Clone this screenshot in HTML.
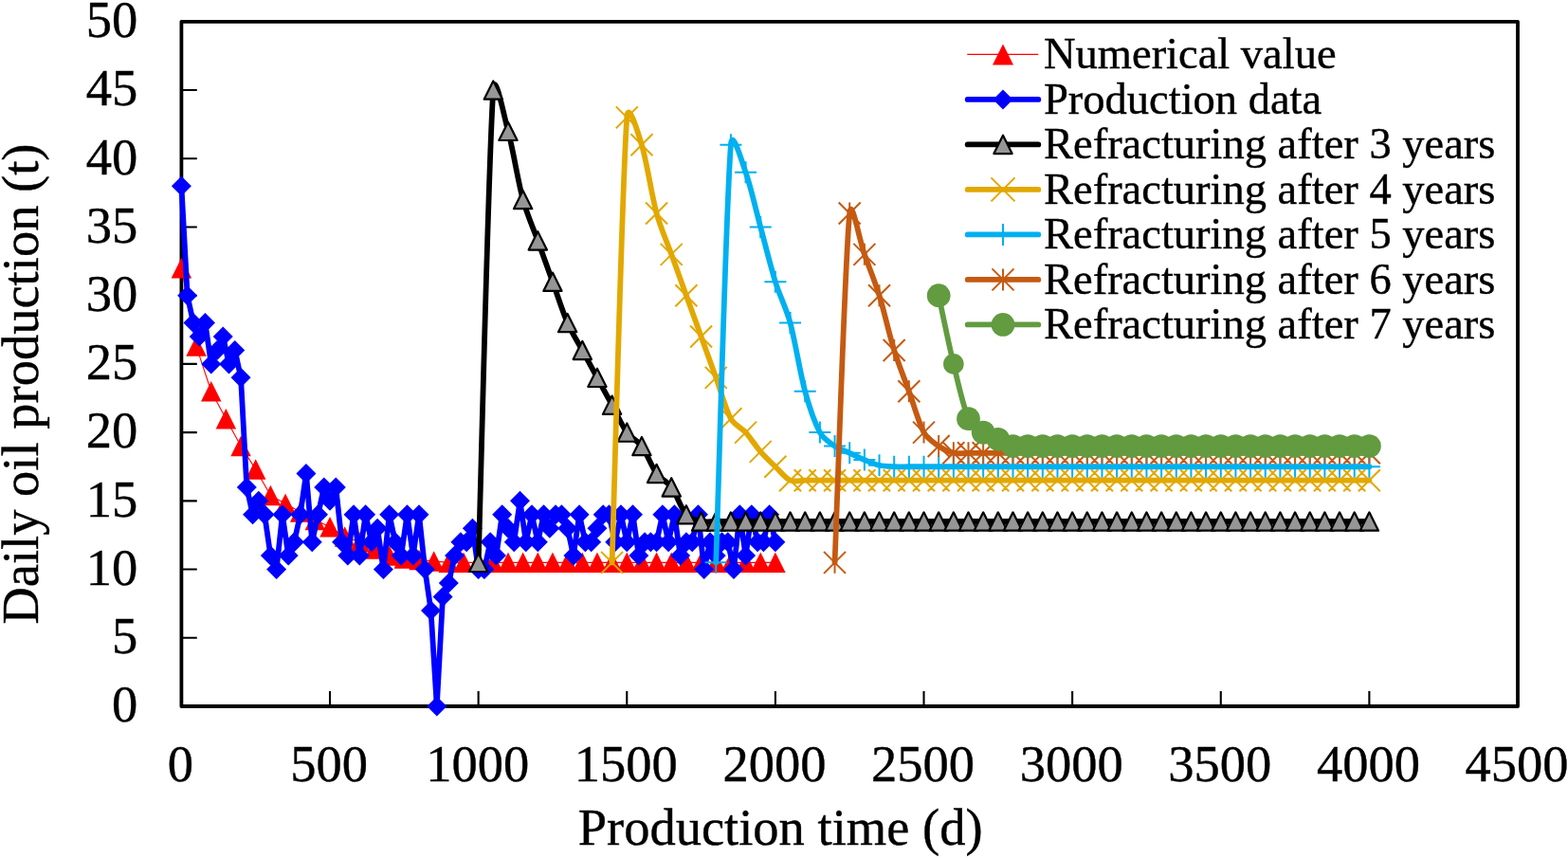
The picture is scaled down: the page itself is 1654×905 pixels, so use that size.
<!DOCTYPE html>
<html><head><meta charset="utf-8"><title>Daily oil production</title>
<style>html,body{margin:0;padding:0;background:#fff;overflow:hidden}svg{display:block}</style>
</head><body>
<svg width="1654" height="905" viewBox="0 0 1654 905"><rect x="0" y="0" width="1654" height="905" fill="#fff"/>
<rect x="191.4" y="22.8" width="1409.6" height="722.2" fill="none" stroke="#000" stroke-width="3.8" stroke-linejoin="round"/>
<path d="M191.4 672.78L207.8 672.78M191.4 600.56L207.8 600.56M191.4 528.34L207.8 528.34M191.4 456.12L207.8 456.12M191.4 383.9L207.8 383.9M191.4 311.68L207.8 311.68M191.4 239.46L207.8 239.46M191.4 167.24L207.8 167.24M191.4 95.02L207.8 95.02M348.02 745L348.02 729M504.64 745L504.64 729M661.27 745L661.27 729M817.89 745L817.89 729M974.51 745L974.51 729M1131.13 745L1131.13 729M1287.76 745L1287.76 729M1444.38 745L1444.38 729" stroke="#000" stroke-width="2.1"/>
<path d="M191.4 282.79 L207.06 365.12 L222.72 412.79 L238.39 441.68 L254.05 470.56 L269.71 495.12 L285.37 522.56 L301.04 531.23 L316.7 539.9 L332.36 548.56 L348.02 555.78 L363.68 565.89 L379.35 571.67 L395.01 578.89 L410.67 586.12 L426.33 589 L442 590.45 L457.66 591.89 L473.32 593.34 L488.98 593.34 L504.64 593.34 L520.31 593.34 L535.97 593.34 L551.63 593.34 L567.29 593.34 L582.96 593.34 L598.62 593.34 L614.28 593.34 L629.94 593.34 L645.6 593.34 L661.27 593.34 L676.93 593.34 L692.59 593.34 L708.25 593.34 L723.92 593.34 L739.58 593.34 L755.24 593.34 L770.9 593.34 L786.56 593.34 L802.23 593.34 L817.89 593.34" stroke="#FF0000" stroke-width="1.1" fill="none" stroke-linejoin="round"/>
<polygon points="191.4,272.04 202.15,293.54 180.65,293.54" fill="#FF0000"/><polygon points="207.06,354.37 217.81,375.87 196.31,375.87" fill="#FF0000"/><polygon points="222.72,402.04 233.47,423.54 211.97,423.54" fill="#FF0000"/><polygon points="238.39,430.93 249.14,452.43 227.64,452.43" fill="#FF0000"/><polygon points="254.05,459.81 264.8,481.31 243.3,481.31" fill="#FF0000"/><polygon points="269.71,484.37 280.46,505.87 258.96,505.87" fill="#FF0000"/><polygon points="285.37,511.81 296.12,533.31 274.62,533.31" fill="#FF0000"/><polygon points="301.04,520.48 311.79,541.98 290.29,541.98" fill="#FF0000"/><polygon points="316.7,529.15 327.45,550.65 305.95,550.65" fill="#FF0000"/><polygon points="332.36,537.81 343.11,559.31 321.61,559.31" fill="#FF0000"/><polygon points="348.02,545.03 358.77,566.53 337.27,566.53" fill="#FF0000"/><polygon points="363.68,555.14 374.43,576.64 352.93,576.64" fill="#FF0000"/><polygon points="379.35,560.92 390.1,582.42 368.6,582.42" fill="#FF0000"/><polygon points="395.01,568.14 405.76,589.64 384.26,589.64" fill="#FF0000"/><polygon points="410.67,575.37 421.42,596.87 399.92,596.87" fill="#FF0000"/><polygon points="426.33,578.25 437.08,599.75 415.58,599.75" fill="#FF0000"/><polygon points="442,579.7 452.75,601.2 431.25,601.2" fill="#FF0000"/><polygon points="457.66,581.14 468.41,602.64 446.91,602.64" fill="#FF0000"/><polygon points="473.32,582.59 484.07,604.09 462.57,604.09" fill="#FF0000"/><polygon points="488.98,582.59 499.73,604.09 478.23,604.09" fill="#FF0000"/><polygon points="504.64,582.59 515.39,604.09 493.89,604.09" fill="#FF0000"/><polygon points="520.31,582.59 531.06,604.09 509.56,604.09" fill="#FF0000"/><polygon points="535.97,582.59 546.72,604.09 525.22,604.09" fill="#FF0000"/><polygon points="551.63,582.59 562.38,604.09 540.88,604.09" fill="#FF0000"/><polygon points="567.29,582.59 578.04,604.09 556.54,604.09" fill="#FF0000"/><polygon points="582.96,582.59 593.71,604.09 572.21,604.09" fill="#FF0000"/><polygon points="598.62,582.59 609.37,604.09 587.87,604.09" fill="#FF0000"/><polygon points="614.28,582.59 625.03,604.09 603.53,604.09" fill="#FF0000"/><polygon points="629.94,582.59 640.69,604.09 619.19,604.09" fill="#FF0000"/><polygon points="645.6,582.59 656.35,604.09 634.85,604.09" fill="#FF0000"/><polygon points="661.27,582.59 672.02,604.09 650.52,604.09" fill="#FF0000"/><polygon points="676.93,582.59 687.68,604.09 666.18,604.09" fill="#FF0000"/><polygon points="692.59,582.59 703.34,604.09 681.84,604.09" fill="#FF0000"/><polygon points="708.25,582.59 719,604.09 697.5,604.09" fill="#FF0000"/><polygon points="723.92,582.59 734.67,604.09 713.17,604.09" fill="#FF0000"/><polygon points="739.58,582.59 750.33,604.09 728.83,604.09" fill="#FF0000"/><polygon points="755.24,582.59 765.99,604.09 744.49,604.09" fill="#FF0000"/><polygon points="770.9,582.59 781.65,604.09 760.15,604.09" fill="#FF0000"/><polygon points="786.56,582.59 797.31,604.09 775.81,604.09" fill="#FF0000"/><polygon points="802.23,582.59 812.98,604.09 791.48,604.09" fill="#FF0000"/><polygon points="817.89,582.59 828.64,604.09 807.14,604.09" fill="#FF0000"/>
<path d="M191.4 196.13 L197.66 311.68 L203.93 340.57 L210.19 355.01 L216.46 340.57 L222.72 383.9 L228.99 369.46 L235.25 355.01 L241.52 383.9 L247.78 369.46 L254.05 398.34 L260.31 513.9 L266.58 542.78 L272.84 528.34 L279.11 542.78 L285.37 586.12 L291.64 600.56 L297.9 542.78 L304.17 586.12 L310.43 571.67 L316.7 542.78 L322.96 499.45 L329.23 571.67 L335.49 542.78 L341.76 513.9 L348.02 528.34 L354.29 513.9 L360.55 571.67 L366.82 586.12 L373.08 542.78 L379.35 586.12 L385.61 542.78 L391.88 571.67 L398.14 557.23 L404.41 600.56 L410.67 542.78 L416.94 571.67 L423.2 586.12 L429.47 542.78 L435.73 586.12 L442 542.78 L448.26 600.56 L454.53 643.89 L460.79 745 L467.06 629.45 L473.32 615 L479.58 586.12 L485.85 571.67 L492.11 571.67 L498.38 557.23 L504.64 600.56 L510.91 600.56 L517.17 571.67 L523.44 586.12 L529.7 542.78 L535.97 557.23 L542.23 571.67 L548.5 528.34 L554.76 571.67 L561.03 542.78 L567.29 571.67 L573.56 542.78 L579.82 557.23 L586.09 542.78 L592.35 542.78 L598.62 557.23 L604.88 586.12 L611.15 542.78 L617.41 571.67 L623.68 571.67 L629.94 557.23 L636.21 542.78 L642.47 542.78 L648.74 571.67 L655 542.78 L661.27 571.67 L667.53 542.78 L673.8 586.12 L680.06 571.67 L686.33 571.67 L692.59 571.67 L698.86 542.78 L705.12 571.67 L711.39 542.78 L717.65 586.12 L723.92 571.67 L730.18 571.67 L736.45 542.78 L742.71 600.56 L748.98 571.67 L755.24 586.12 L761.5 571.67 L767.77 571.67 L774.03 600.56 L780.3 542.78 L786.56 586.12 L792.83 542.78 L799.09 571.67 L805.36 571.67 L811.62 542.78 L817.89 571.67" stroke="#0000FF" stroke-width="5.8" fill="none" stroke-linejoin="round" stroke-linecap="round"/>
<polygon points="191.4,185.63 201.9,196.13 191.4,206.63 180.9,196.13" fill="#0000FF"/><polygon points="197.66,301.18 208.16,311.68 197.66,322.18 187.16,311.68" fill="#0000FF"/><polygon points="203.93,330.07 214.43,340.57 203.93,351.07 193.43,340.57" fill="#0000FF"/><polygon points="210.19,344.51 220.69,355.01 210.19,365.51 199.69,355.01" fill="#0000FF"/><polygon points="216.46,330.07 226.96,340.57 216.46,351.07 205.96,340.57" fill="#0000FF"/><polygon points="222.72,373.4 233.22,383.9 222.72,394.4 212.22,383.9" fill="#0000FF"/><polygon points="228.99,358.96 239.49,369.46 228.99,379.96 218.49,369.46" fill="#0000FF"/><polygon points="235.25,344.51 245.75,355.01 235.25,365.51 224.75,355.01" fill="#0000FF"/><polygon points="241.52,373.4 252.02,383.9 241.52,394.4 231.02,383.9" fill="#0000FF"/><polygon points="247.78,358.96 258.28,369.46 247.78,379.96 237.28,369.46" fill="#0000FF"/><polygon points="254.05,387.84 264.55,398.34 254.05,408.84 243.55,398.34" fill="#0000FF"/><polygon points="260.31,503.4 270.81,513.9 260.31,524.4 249.81,513.9" fill="#0000FF"/><polygon points="266.58,532.28 277.08,542.78 266.58,553.28 256.08,542.78" fill="#0000FF"/><polygon points="272.84,517.84 283.34,528.34 272.84,538.84 262.34,528.34" fill="#0000FF"/><polygon points="279.11,532.28 289.61,542.78 279.11,553.28 268.61,542.78" fill="#0000FF"/><polygon points="285.37,575.62 295.87,586.12 285.37,596.62 274.87,586.12" fill="#0000FF"/><polygon points="291.64,590.06 302.14,600.56 291.64,611.06 281.14,600.56" fill="#0000FF"/><polygon points="297.9,532.28 308.4,542.78 297.9,553.28 287.4,542.78" fill="#0000FF"/><polygon points="304.17,575.62 314.67,586.12 304.17,596.62 293.67,586.12" fill="#0000FF"/><polygon points="310.43,561.17 320.93,571.67 310.43,582.17 299.93,571.67" fill="#0000FF"/><polygon points="316.7,532.28 327.2,542.78 316.7,553.28 306.2,542.78" fill="#0000FF"/><polygon points="322.96,488.95 333.46,499.45 322.96,509.95 312.46,499.45" fill="#0000FF"/><polygon points="329.23,561.17 339.73,571.67 329.23,582.17 318.73,571.67" fill="#0000FF"/><polygon points="335.49,532.28 345.99,542.78 335.49,553.28 324.99,542.78" fill="#0000FF"/><polygon points="341.76,503.4 352.26,513.9 341.76,524.4 331.26,513.9" fill="#0000FF"/><polygon points="348.02,517.84 358.52,528.34 348.02,538.84 337.52,528.34" fill="#0000FF"/><polygon points="354.29,503.4 364.79,513.9 354.29,524.4 343.79,513.9" fill="#0000FF"/><polygon points="360.55,561.17 371.05,571.67 360.55,582.17 350.05,571.67" fill="#0000FF"/><polygon points="366.82,575.62 377.32,586.12 366.82,596.62 356.32,586.12" fill="#0000FF"/><polygon points="373.08,532.28 383.58,542.78 373.08,553.28 362.58,542.78" fill="#0000FF"/><polygon points="379.35,575.62 389.85,586.12 379.35,596.62 368.85,586.12" fill="#0000FF"/><polygon points="385.61,532.28 396.11,542.78 385.61,553.28 375.11,542.78" fill="#0000FF"/><polygon points="391.88,561.17 402.38,571.67 391.88,582.17 381.38,571.67" fill="#0000FF"/><polygon points="398.14,546.73 408.64,557.23 398.14,567.73 387.64,557.23" fill="#0000FF"/><polygon points="404.41,590.06 414.91,600.56 404.41,611.06 393.91,600.56" fill="#0000FF"/><polygon points="410.67,532.28 421.17,542.78 410.67,553.28 400.17,542.78" fill="#0000FF"/><polygon points="416.94,561.17 427.44,571.67 416.94,582.17 406.44,571.67" fill="#0000FF"/><polygon points="423.2,575.62 433.7,586.12 423.2,596.62 412.7,586.12" fill="#0000FF"/><polygon points="429.47,532.28 439.97,542.78 429.47,553.28 418.97,542.78" fill="#0000FF"/><polygon points="435.73,575.62 446.23,586.12 435.73,596.62 425.23,586.12" fill="#0000FF"/><polygon points="442,532.28 452.5,542.78 442,553.28 431.5,542.78" fill="#0000FF"/><polygon points="448.26,590.06 458.76,600.56 448.26,611.06 437.76,600.56" fill="#0000FF"/><polygon points="454.53,633.39 465.03,643.89 454.53,654.39 444.03,643.89" fill="#0000FF"/><polygon points="460.79,734.5 471.29,745 460.79,755.5 450.29,745" fill="#0000FF"/><polygon points="467.06,618.95 477.56,629.45 467.06,639.95 456.56,629.45" fill="#0000FF"/><polygon points="473.32,604.5 483.82,615 473.32,625.5 462.82,615" fill="#0000FF"/><polygon points="479.58,575.62 490.08,586.12 479.58,596.62 469.08,586.12" fill="#0000FF"/><polygon points="485.85,561.17 496.35,571.67 485.85,582.17 475.35,571.67" fill="#0000FF"/><polygon points="492.11,561.17 502.61,571.67 492.11,582.17 481.61,571.67" fill="#0000FF"/><polygon points="498.38,546.73 508.88,557.23 498.38,567.73 487.88,557.23" fill="#0000FF"/><polygon points="504.64,590.06 515.14,600.56 504.64,611.06 494.14,600.56" fill="#0000FF"/><polygon points="510.91,590.06 521.41,600.56 510.91,611.06 500.41,600.56" fill="#0000FF"/><polygon points="517.17,561.17 527.67,571.67 517.17,582.17 506.67,571.67" fill="#0000FF"/><polygon points="523.44,575.62 533.94,586.12 523.44,596.62 512.94,586.12" fill="#0000FF"/><polygon points="529.7,532.28 540.2,542.78 529.7,553.28 519.2,542.78" fill="#0000FF"/><polygon points="535.97,546.73 546.47,557.23 535.97,567.73 525.47,557.23" fill="#0000FF"/><polygon points="542.23,561.17 552.73,571.67 542.23,582.17 531.73,571.67" fill="#0000FF"/><polygon points="548.5,517.84 559,528.34 548.5,538.84 538,528.34" fill="#0000FF"/><polygon points="554.76,561.17 565.26,571.67 554.76,582.17 544.26,571.67" fill="#0000FF"/><polygon points="561.03,532.28 571.53,542.78 561.03,553.28 550.53,542.78" fill="#0000FF"/><polygon points="567.29,561.17 577.79,571.67 567.29,582.17 556.79,571.67" fill="#0000FF"/><polygon points="573.56,532.28 584.06,542.78 573.56,553.28 563.06,542.78" fill="#0000FF"/><polygon points="579.82,546.73 590.32,557.23 579.82,567.73 569.32,557.23" fill="#0000FF"/><polygon points="586.09,532.28 596.59,542.78 586.09,553.28 575.59,542.78" fill="#0000FF"/><polygon points="592.35,532.28 602.85,542.78 592.35,553.28 581.85,542.78" fill="#0000FF"/><polygon points="598.62,546.73 609.12,557.23 598.62,567.73 588.12,557.23" fill="#0000FF"/><polygon points="604.88,575.62 615.38,586.12 604.88,596.62 594.38,586.12" fill="#0000FF"/><polygon points="611.15,532.28 621.65,542.78 611.15,553.28 600.65,542.78" fill="#0000FF"/><polygon points="617.41,561.17 627.91,571.67 617.41,582.17 606.91,571.67" fill="#0000FF"/><polygon points="623.68,561.17 634.18,571.67 623.68,582.17 613.18,571.67" fill="#0000FF"/><polygon points="629.94,546.73 640.44,557.23 629.94,567.73 619.44,557.23" fill="#0000FF"/><polygon points="636.21,532.28 646.71,542.78 636.21,553.28 625.71,542.78" fill="#0000FF"/><polygon points="642.47,532.28 652.97,542.78 642.47,553.28 631.97,542.78" fill="#0000FF"/><polygon points="648.74,561.17 659.24,571.67 648.74,582.17 638.24,571.67" fill="#0000FF"/><polygon points="655,532.28 665.5,542.78 655,553.28 644.5,542.78" fill="#0000FF"/><polygon points="661.27,561.17 671.77,571.67 661.27,582.17 650.77,571.67" fill="#0000FF"/><polygon points="667.53,532.28 678.03,542.78 667.53,553.28 657.03,542.78" fill="#0000FF"/><polygon points="673.8,575.62 684.3,586.12 673.8,596.62 663.3,586.12" fill="#0000FF"/><polygon points="680.06,561.17 690.56,571.67 680.06,582.17 669.56,571.67" fill="#0000FF"/><polygon points="686.33,561.17 696.83,571.67 686.33,582.17 675.83,571.67" fill="#0000FF"/><polygon points="692.59,561.17 703.09,571.67 692.59,582.17 682.09,571.67" fill="#0000FF"/><polygon points="698.86,532.28 709.36,542.78 698.86,553.28 688.36,542.78" fill="#0000FF"/><polygon points="705.12,561.17 715.62,571.67 705.12,582.17 694.62,571.67" fill="#0000FF"/><polygon points="711.39,532.28 721.89,542.78 711.39,553.28 700.89,542.78" fill="#0000FF"/><polygon points="717.65,575.62 728.15,586.12 717.65,596.62 707.15,586.12" fill="#0000FF"/><polygon points="723.92,561.17 734.42,571.67 723.92,582.17 713.42,571.67" fill="#0000FF"/><polygon points="730.18,561.17 740.68,571.67 730.18,582.17 719.68,571.67" fill="#0000FF"/><polygon points="736.45,532.28 746.95,542.78 736.45,553.28 725.95,542.78" fill="#0000FF"/><polygon points="742.71,590.06 753.21,600.56 742.71,611.06 732.21,600.56" fill="#0000FF"/><polygon points="748.98,561.17 759.48,571.67 748.98,582.17 738.48,571.67" fill="#0000FF"/><polygon points="755.24,575.62 765.74,586.12 755.24,596.62 744.74,586.12" fill="#0000FF"/><polygon points="761.5,561.17 772,571.67 761.5,582.17 751,571.67" fill="#0000FF"/><polygon points="767.77,561.17 778.27,571.67 767.77,582.17 757.27,571.67" fill="#0000FF"/><polygon points="774.03,590.06 784.53,600.56 774.03,611.06 763.53,600.56" fill="#0000FF"/><polygon points="780.3,532.28 790.8,542.78 780.3,553.28 769.8,542.78" fill="#0000FF"/><polygon points="786.56,575.62 797.06,586.12 786.56,596.62 776.06,586.12" fill="#0000FF"/><polygon points="792.83,532.28 803.33,542.78 792.83,553.28 782.33,542.78" fill="#0000FF"/><polygon points="799.09,561.17 809.59,571.67 799.09,582.17 788.59,571.67" fill="#0000FF"/><polygon points="805.36,561.17 815.86,571.67 805.36,582.17 794.86,571.67" fill="#0000FF"/><polygon points="811.62,532.28 822.12,542.78 811.62,553.28 801.12,542.78" fill="#0000FF"/><polygon points="817.89,561.17 828.39,571.67 817.89,582.17 807.39,571.67" fill="#0000FF"/>
<path d="M504.64 593.34 C507.25 510.28 515.09 170.85 520.31 95.02 C521.89 71.97 531.85 123.15 535.97 138.35 C541.19 157.61 546.41 191.31 551.63 210.57 C555.75 225.78 562.07 239.46 567.29 253.9 C572.51 268.35 577.73 282.79 582.96 297.24 C588.18 311.68 593.4 328.53 598.62 340.57 C603.03 350.73 609.06 359.83 614.28 369.46 C619.5 379.09 624.72 388.71 629.94 398.34 C635.16 407.97 640.38 417.6 645.6 427.23 C650.83 436.86 656.05 448.9 661.27 456.12 C665.47 461.94 672.73 464.75 676.93 470.56 C682.15 477.79 687.37 492.23 692.59 499.45 C696.79 505.27 704.05 508.08 708.25 513.9 C713.47 521.12 718.69 536.77 723.92 542.78 C727.7 547.14 734.36 548.8 739.58 550.01 C744.55 551.15 750.02 550.01 755.24 550.01 C760.46 550.01 765.68 550.01 770.9 550.01 C776.12 550.01 781.34 550.01 786.56 550.01 C791.79 550.01 797.01 550.01 802.23 550.01 C807.45 550.01 812.67 550.01 817.89 550.01 C823.11 550.01 828.33 550.01 833.55 550.01 C838.77 550.01 843.99 550.01 849.21 550.01 C854.43 550.01 859.65 550.01 864.88 550.01 C870.1 550.01 875.32 550.01 880.54 550.01 C885.76 550.01 890.98 550.01 896.2 550.01 C901.42 550.01 906.64 550.01 911.86 550.01 C917.08 550.01 922.3 550.01 927.52 550.01 C932.75 550.01 937.97 550.01 943.19 550.01 C948.41 550.01 953.63 550.01 958.85 550.01 C964.07 550.01 969.29 550.01 974.51 550.01 C979.73 550.01 984.95 550.01 990.17 550.01 C995.39 550.01 1000.61 550.01 1005.84 550.01 C1011.06 550.01 1016.28 550.01 1021.5 550.01 C1026.72 550.01 1031.94 550.01 1037.16 550.01 C1042.38 550.01 1047.6 550.01 1052.82 550.01 C1058.04 550.01 1063.26 550.01 1068.48 550.01 C1073.71 550.01 1078.93 550.01 1084.15 550.01 C1089.37 550.01 1094.59 550.01 1099.81 550.01 C1105.03 550.01 1110.25 550.01 1115.47 550.01 C1120.69 550.01 1125.91 550.01 1131.13 550.01 C1136.35 550.01 1141.57 550.01 1146.8 550.01 C1152.02 550.01 1157.24 550.01 1162.46 550.01 C1167.68 550.01 1172.9 550.01 1178.12 550.01 C1183.34 550.01 1188.56 550.01 1193.78 550.01 C1199 550.01 1204.22 550.01 1209.44 550.01 C1214.67 550.01 1219.89 550.01 1225.11 550.01 C1230.33 550.01 1235.55 550.01 1240.77 550.01 C1245.99 550.01 1251.21 550.01 1256.43 550.01 C1261.65 550.01 1266.87 550.01 1272.09 550.01 C1277.31 550.01 1282.53 550.01 1287.76 550.01 C1292.98 550.01 1298.2 550.01 1303.42 550.01 C1308.64 550.01 1313.86 550.01 1319.08 550.01 C1324.3 550.01 1329.52 550.01 1334.74 550.01 C1339.96 550.01 1345.18 550.01 1350.4 550.01 C1355.63 550.01 1360.85 550.01 1366.07 550.01 C1371.29 550.01 1376.51 550.01 1381.73 550.01 C1386.95 550.01 1392.17 550.01 1397.39 550.01 C1402.61 550.01 1407.83 550.01 1413.05 550.01 C1418.27 550.01 1423.49 550.01 1428.72 550.01 C1433.94 550.01 1441.77 550.01 1444.38 550.01" stroke="#000" stroke-width="5.8" fill="none" stroke-linejoin="round" stroke-linecap="round"/>
<polygon points="504.64,583.69 514.29,602.99 494.99,602.99" fill="#969696" stroke="#000" stroke-width="2.2" stroke-linejoin="round"/><polygon points="520.31,85.37 529.96,104.67 510.66,104.67" fill="#969696" stroke="#000" stroke-width="2.2" stroke-linejoin="round"/><polygon points="535.97,128.7 545.62,148 526.32,148" fill="#969696" stroke="#000" stroke-width="2.2" stroke-linejoin="round"/><polygon points="551.63,200.92 561.28,220.22 541.98,220.22" fill="#969696" stroke="#000" stroke-width="2.2" stroke-linejoin="round"/><polygon points="567.29,244.25 576.94,263.55 557.64,263.55" fill="#969696" stroke="#000" stroke-width="2.2" stroke-linejoin="round"/><polygon points="582.96,287.59 592.61,306.89 573.31,306.89" fill="#969696" stroke="#000" stroke-width="2.2" stroke-linejoin="round"/><polygon points="598.62,330.92 608.27,350.22 588.97,350.22" fill="#969696" stroke="#000" stroke-width="2.2" stroke-linejoin="round"/><polygon points="614.28,359.81 623.93,379.11 604.63,379.11" fill="#969696" stroke="#000" stroke-width="2.2" stroke-linejoin="round"/><polygon points="629.94,388.69 639.59,407.99 620.29,407.99" fill="#969696" stroke="#000" stroke-width="2.2" stroke-linejoin="round"/><polygon points="645.6,417.58 655.25,436.88 635.95,436.88" fill="#969696" stroke="#000" stroke-width="2.2" stroke-linejoin="round"/><polygon points="661.27,446.47 670.92,465.77 651.62,465.77" fill="#969696" stroke="#000" stroke-width="2.2" stroke-linejoin="round"/><polygon points="676.93,460.91 686.58,480.21 667.28,480.21" fill="#969696" stroke="#000" stroke-width="2.2" stroke-linejoin="round"/><polygon points="692.59,489.8 702.24,509.1 682.94,509.1" fill="#969696" stroke="#000" stroke-width="2.2" stroke-linejoin="round"/><polygon points="708.25,504.25 717.9,523.55 698.6,523.55" fill="#969696" stroke="#000" stroke-width="2.2" stroke-linejoin="round"/><polygon points="723.92,533.13 733.57,552.43 714.27,552.43" fill="#969696" stroke="#000" stroke-width="2.2" stroke-linejoin="round"/><polygon points="739.58,540.36 749.23,559.66 729.93,559.66" fill="#969696" stroke="#000" stroke-width="2.2" stroke-linejoin="round"/><polygon points="755.24,540.36 764.89,559.66 745.59,559.66" fill="#969696" stroke="#000" stroke-width="2.2" stroke-linejoin="round"/><polygon points="770.9,540.36 780.55,559.66 761.25,559.66" fill="#969696" stroke="#000" stroke-width="2.2" stroke-linejoin="round"/><polygon points="786.56,540.36 796.21,559.66 776.91,559.66" fill="#969696" stroke="#000" stroke-width="2.2" stroke-linejoin="round"/><polygon points="802.23,540.36 811.88,559.66 792.58,559.66" fill="#969696" stroke="#000" stroke-width="2.2" stroke-linejoin="round"/><polygon points="817.89,540.36 827.54,559.66 808.24,559.66" fill="#969696" stroke="#000" stroke-width="2.2" stroke-linejoin="round"/><polygon points="833.55,540.36 843.2,559.66 823.9,559.66" fill="#969696" stroke="#000" stroke-width="2.2" stroke-linejoin="round"/><polygon points="849.21,540.36 858.86,559.66 839.56,559.66" fill="#969696" stroke="#000" stroke-width="2.2" stroke-linejoin="round"/><polygon points="864.88,540.36 874.53,559.66 855.23,559.66" fill="#969696" stroke="#000" stroke-width="2.2" stroke-linejoin="round"/><polygon points="880.54,540.36 890.19,559.66 870.89,559.66" fill="#969696" stroke="#000" stroke-width="2.2" stroke-linejoin="round"/><polygon points="896.2,540.36 905.85,559.66 886.55,559.66" fill="#969696" stroke="#000" stroke-width="2.2" stroke-linejoin="round"/><polygon points="911.86,540.36 921.51,559.66 902.21,559.66" fill="#969696" stroke="#000" stroke-width="2.2" stroke-linejoin="round"/><polygon points="927.52,540.36 937.17,559.66 917.87,559.66" fill="#969696" stroke="#000" stroke-width="2.2" stroke-linejoin="round"/><polygon points="943.19,540.36 952.84,559.66 933.54,559.66" fill="#969696" stroke="#000" stroke-width="2.2" stroke-linejoin="round"/><polygon points="958.85,540.36 968.5,559.66 949.2,559.66" fill="#969696" stroke="#000" stroke-width="2.2" stroke-linejoin="round"/><polygon points="974.51,540.36 984.16,559.66 964.86,559.66" fill="#969696" stroke="#000" stroke-width="2.2" stroke-linejoin="round"/><polygon points="990.17,540.36 999.82,559.66 980.52,559.66" fill="#969696" stroke="#000" stroke-width="2.2" stroke-linejoin="round"/><polygon points="1005.84,540.36 1015.49,559.66 996.19,559.66" fill="#969696" stroke="#000" stroke-width="2.2" stroke-linejoin="round"/><polygon points="1021.5,540.36 1031.15,559.66 1011.85,559.66" fill="#969696" stroke="#000" stroke-width="2.2" stroke-linejoin="round"/><polygon points="1037.16,540.36 1046.81,559.66 1027.51,559.66" fill="#969696" stroke="#000" stroke-width="2.2" stroke-linejoin="round"/><polygon points="1052.82,540.36 1062.47,559.66 1043.17,559.66" fill="#969696" stroke="#000" stroke-width="2.2" stroke-linejoin="round"/><polygon points="1068.48,540.36 1078.13,559.66 1058.83,559.66" fill="#969696" stroke="#000" stroke-width="2.2" stroke-linejoin="round"/><polygon points="1084.15,540.36 1093.8,559.66 1074.5,559.66" fill="#969696" stroke="#000" stroke-width="2.2" stroke-linejoin="round"/><polygon points="1099.81,540.36 1109.46,559.66 1090.16,559.66" fill="#969696" stroke="#000" stroke-width="2.2" stroke-linejoin="round"/><polygon points="1115.47,540.36 1125.12,559.66 1105.82,559.66" fill="#969696" stroke="#000" stroke-width="2.2" stroke-linejoin="round"/><polygon points="1131.13,540.36 1140.78,559.66 1121.48,559.66" fill="#969696" stroke="#000" stroke-width="2.2" stroke-linejoin="round"/><polygon points="1146.8,540.36 1156.45,559.66 1137.15,559.66" fill="#969696" stroke="#000" stroke-width="2.2" stroke-linejoin="round"/><polygon points="1162.46,540.36 1172.11,559.66 1152.81,559.66" fill="#969696" stroke="#000" stroke-width="2.2" stroke-linejoin="round"/><polygon points="1178.12,540.36 1187.77,559.66 1168.47,559.66" fill="#969696" stroke="#000" stroke-width="2.2" stroke-linejoin="round"/><polygon points="1193.78,540.36 1203.43,559.66 1184.13,559.66" fill="#969696" stroke="#000" stroke-width="2.2" stroke-linejoin="round"/><polygon points="1209.44,540.36 1219.09,559.66 1199.79,559.66" fill="#969696" stroke="#000" stroke-width="2.2" stroke-linejoin="round"/><polygon points="1225.11,540.36 1234.76,559.66 1215.46,559.66" fill="#969696" stroke="#000" stroke-width="2.2" stroke-linejoin="round"/><polygon points="1240.77,540.36 1250.42,559.66 1231.12,559.66" fill="#969696" stroke="#000" stroke-width="2.2" stroke-linejoin="round"/><polygon points="1256.43,540.36 1266.08,559.66 1246.78,559.66" fill="#969696" stroke="#000" stroke-width="2.2" stroke-linejoin="round"/><polygon points="1272.09,540.36 1281.74,559.66 1262.44,559.66" fill="#969696" stroke="#000" stroke-width="2.2" stroke-linejoin="round"/><polygon points="1287.76,540.36 1297.41,559.66 1278.11,559.66" fill="#969696" stroke="#000" stroke-width="2.2" stroke-linejoin="round"/><polygon points="1303.42,540.36 1313.07,559.66 1293.77,559.66" fill="#969696" stroke="#000" stroke-width="2.2" stroke-linejoin="round"/><polygon points="1319.08,540.36 1328.73,559.66 1309.43,559.66" fill="#969696" stroke="#000" stroke-width="2.2" stroke-linejoin="round"/><polygon points="1334.74,540.36 1344.39,559.66 1325.09,559.66" fill="#969696" stroke="#000" stroke-width="2.2" stroke-linejoin="round"/><polygon points="1350.4,540.36 1360.05,559.66 1340.75,559.66" fill="#969696" stroke="#000" stroke-width="2.2" stroke-linejoin="round"/><polygon points="1366.07,540.36 1375.72,559.66 1356.42,559.66" fill="#969696" stroke="#000" stroke-width="2.2" stroke-linejoin="round"/><polygon points="1381.73,540.36 1391.38,559.66 1372.08,559.66" fill="#969696" stroke="#000" stroke-width="2.2" stroke-linejoin="round"/><polygon points="1397.39,540.36 1407.04,559.66 1387.74,559.66" fill="#969696" stroke="#000" stroke-width="2.2" stroke-linejoin="round"/><polygon points="1413.05,540.36 1422.7,559.66 1403.4,559.66" fill="#969696" stroke="#000" stroke-width="2.2" stroke-linejoin="round"/><polygon points="1428.72,540.36 1438.37,559.66 1419.07,559.66" fill="#969696" stroke="#000" stroke-width="2.2" stroke-linejoin="round"/><polygon points="1444.38,540.36 1454.03,559.66 1434.73,559.66" fill="#969696" stroke="#000" stroke-width="2.2" stroke-linejoin="round"/>
<path d="M645.6 593.34 C648.21 515.1 656.05 197.33 661.27 123.91 C662.65 104.49 673.45 141.56 676.93 152.8 C682.15 169.65 687.37 205.76 692.59 225.02 C696.71 240.22 703.03 253.9 708.25 268.35 C713.47 282.79 718.69 297.24 723.92 311.68 C729.14 326.12 734.36 340.57 739.58 355.01 C744.8 369.46 750.02 383.9 755.24 398.34 C760.46 412.79 765.68 432.05 770.9 441.68 C774.45 448.22 781.8 450.85 786.56 456.12 C791.79 461.9 797.01 470.32 802.23 476.34 C807.1 481.96 812.67 487.17 817.89 492.23 C822.99 497.17 828.33 504.27 833.55 506.67 C838.03 508.74 843.99 506.67 849.21 506.67 C854.43 506.67 859.65 506.67 864.88 506.67 C870.1 506.67 875.32 506.67 880.54 506.67 C885.76 506.67 890.98 506.67 896.2 506.67 C901.42 506.67 906.64 506.67 911.86 506.67 C917.08 506.67 922.3 506.67 927.52 506.67 C932.75 506.67 937.97 506.67 943.19 506.67 C948.41 506.67 953.63 506.67 958.85 506.67 C964.07 506.67 969.29 506.67 974.51 506.67 C979.73 506.67 984.95 506.67 990.17 506.67 C995.39 506.67 1000.61 506.67 1005.84 506.67 C1011.06 506.67 1016.28 506.67 1021.5 506.67 C1026.72 506.67 1031.94 506.67 1037.16 506.67 C1042.38 506.67 1047.6 506.67 1052.82 506.67 C1058.04 506.67 1063.26 506.67 1068.48 506.67 C1073.71 506.67 1078.93 506.67 1084.15 506.67 C1089.37 506.67 1094.59 506.67 1099.81 506.67 C1105.03 506.67 1110.25 506.67 1115.47 506.67 C1120.69 506.67 1125.91 506.67 1131.13 506.67 C1136.35 506.67 1141.57 506.67 1146.8 506.67 C1152.02 506.67 1157.24 506.67 1162.46 506.67 C1167.68 506.67 1172.9 506.67 1178.12 506.67 C1183.34 506.67 1188.56 506.67 1193.78 506.67 C1199 506.67 1204.22 506.67 1209.44 506.67 C1214.67 506.67 1219.89 506.67 1225.11 506.67 C1230.33 506.67 1235.55 506.67 1240.77 506.67 C1245.99 506.67 1251.21 506.67 1256.43 506.67 C1261.65 506.67 1266.87 506.67 1272.09 506.67 C1277.31 506.67 1282.53 506.67 1287.76 506.67 C1292.98 506.67 1298.2 506.67 1303.42 506.67 C1308.64 506.67 1313.86 506.67 1319.08 506.67 C1324.3 506.67 1329.52 506.67 1334.74 506.67 C1339.96 506.67 1345.18 506.67 1350.4 506.67 C1355.63 506.67 1360.85 506.67 1366.07 506.67 C1371.29 506.67 1376.51 506.67 1381.73 506.67 C1386.95 506.67 1392.17 506.67 1397.39 506.67 C1402.61 506.67 1407.83 506.67 1413.05 506.67 C1418.27 506.67 1423.49 506.67 1428.72 506.67 C1433.94 506.67 1441.77 506.67 1444.38 506.67" stroke="#E2A800" stroke-width="5.8" fill="none" stroke-linejoin="round" stroke-linecap="round"/>
<path d="M634.1 581.84L657.1 604.84M634.1 604.84L657.1 581.84M649.77 112.41L672.77 135.41M649.77 135.41L672.77 112.41M665.43 141.3L688.43 164.3M665.43 164.3L688.43 141.3M681.09 213.52L704.09 236.52M681.09 236.52L704.09 213.52M696.75 256.85L719.75 279.85M696.75 279.85L719.75 256.85M712.42 300.18L735.42 323.18M712.42 323.18L735.42 300.18M728.08 343.51L751.08 366.51M728.08 366.51L751.08 343.51M743.74 386.84L766.74 409.84M743.74 409.84L766.74 386.84M759.4 430.18L782.4 453.18M759.4 453.18L782.4 430.18M775.06 444.62L798.06 467.62M775.06 467.62L798.06 444.62M790.73 464.84L813.73 487.84M790.73 487.84L813.73 464.84M806.39 480.73L829.39 503.73M806.39 503.73L829.39 480.73M822.05 495.17L845.05 518.17M822.05 518.17L845.05 495.17M837.71 495.17L860.71 518.17M837.71 518.17L860.71 495.17M853.38 495.17L876.38 518.17M853.38 518.17L876.38 495.17M869.04 495.17L892.04 518.17M869.04 518.17L892.04 495.17M884.7 495.17L907.7 518.17M884.7 518.17L907.7 495.17M900.36 495.17L923.36 518.17M900.36 518.17L923.36 495.17M916.02 495.17L939.02 518.17M916.02 518.17L939.02 495.17M931.69 495.17L954.69 518.17M931.69 518.17L954.69 495.17M947.35 495.17L970.35 518.17M947.35 518.17L970.35 495.17M963.01 495.17L986.01 518.17M963.01 518.17L986.01 495.17M978.67 495.17L1001.67 518.17M978.67 518.17L1001.67 495.17M994.34 495.17L1017.34 518.17M994.34 518.17L1017.34 495.17M1010 495.17L1033 518.17M1010 518.17L1033 495.17M1025.66 495.17L1048.66 518.17M1025.66 518.17L1048.66 495.17M1041.32 495.17L1064.32 518.17M1041.32 518.17L1064.32 495.17M1056.98 495.17L1079.98 518.17M1056.98 518.17L1079.98 495.17M1072.65 495.17L1095.65 518.17M1072.65 518.17L1095.65 495.17M1088.31 495.17L1111.31 518.17M1088.31 518.17L1111.31 495.17M1103.97 495.17L1126.97 518.17M1103.97 518.17L1126.97 495.17M1119.63 495.17L1142.63 518.17M1119.63 518.17L1142.63 495.17M1135.3 495.17L1158.3 518.17M1135.3 518.17L1158.3 495.17M1150.96 495.17L1173.96 518.17M1150.96 518.17L1173.96 495.17M1166.62 495.17L1189.62 518.17M1166.62 518.17L1189.62 495.17M1182.28 495.17L1205.28 518.17M1182.28 518.17L1205.28 495.17M1197.94 495.17L1220.94 518.17M1197.94 518.17L1220.94 495.17M1213.61 495.17L1236.61 518.17M1213.61 518.17L1236.61 495.17M1229.27 495.17L1252.27 518.17M1229.27 518.17L1252.27 495.17M1244.93 495.17L1267.93 518.17M1244.93 518.17L1267.93 495.17M1260.59 495.17L1283.59 518.17M1260.59 518.17L1283.59 495.17M1276.26 495.17L1299.26 518.17M1276.26 518.17L1299.26 495.17M1291.92 495.17L1314.92 518.17M1291.92 518.17L1314.92 495.17M1307.58 495.17L1330.58 518.17M1307.58 518.17L1330.58 495.17M1323.24 495.17L1346.24 518.17M1323.24 518.17L1346.24 495.17M1338.9 495.17L1361.9 518.17M1338.9 518.17L1361.9 495.17M1354.57 495.17L1377.57 518.17M1354.57 518.17L1377.57 495.17M1370.23 495.17L1393.23 518.17M1370.23 518.17L1393.23 495.17M1385.89 495.17L1408.89 518.17M1385.89 518.17L1408.89 495.17M1401.55 495.17L1424.55 518.17M1401.55 518.17L1424.55 495.17M1417.22 495.17L1440.22 518.17M1417.22 518.17L1440.22 495.17M1432.88 495.17L1455.88 518.17M1432.88 518.17L1455.88 495.17" stroke="#E2A800" stroke-width="2" fill="none"/>
<path d="M755.24 593.34 C757.85 519.91 765.68 221.4 770.9 152.8 C772.33 134.06 782.7 170.98 786.56 181.68 C791.79 196.13 797.01 220.2 802.23 239.46 C807.45 258.72 812.67 280.38 817.89 297.24 C822.47 312.02 829.43 325.36 833.55 340.57 C838.77 359.83 843.99 393.53 849.21 412.79 C853.34 427.99 859.65 446.49 864.88 456.12 C868.43 462.67 875.32 466.95 880.54 470.56 C885.24 473.81 890.98 475.38 896.2 477.79 C901.42 480.19 906.64 482.84 911.86 485.01 C917 487.14 922.3 489.58 927.52 490.79 C932.59 491.95 937.97 491.99 943.19 492.23 C948.4 492.47 953.63 492.23 958.85 492.23 C964.07 492.23 969.29 492.23 974.51 492.23 C979.73 492.23 984.95 492.23 990.17 492.23 C995.39 492.23 1000.61 492.23 1005.84 492.23 C1011.06 492.23 1016.28 492.23 1021.5 492.23 C1026.72 492.23 1031.94 492.23 1037.16 492.23 C1042.38 492.23 1047.6 492.23 1052.82 492.23 C1058.04 492.23 1063.26 492.23 1068.48 492.23 C1073.71 492.23 1078.93 492.23 1084.15 492.23 C1089.37 492.23 1094.59 492.23 1099.81 492.23 C1105.03 492.23 1110.25 492.23 1115.47 492.23 C1120.69 492.23 1125.91 492.23 1131.13 492.23 C1136.35 492.23 1141.57 492.23 1146.8 492.23 C1152.02 492.23 1157.24 492.23 1162.46 492.23 C1167.68 492.23 1172.9 492.23 1178.12 492.23 C1183.34 492.23 1188.56 492.23 1193.78 492.23 C1199 492.23 1204.22 492.23 1209.44 492.23 C1214.67 492.23 1219.89 492.23 1225.11 492.23 C1230.33 492.23 1235.55 492.23 1240.77 492.23 C1245.99 492.23 1251.21 492.23 1256.43 492.23 C1261.65 492.23 1266.87 492.23 1272.09 492.23 C1277.31 492.23 1282.53 492.23 1287.76 492.23 C1292.98 492.23 1298.2 492.23 1303.42 492.23 C1308.64 492.23 1313.86 492.23 1319.08 492.23 C1324.3 492.23 1329.52 492.23 1334.74 492.23 C1339.96 492.23 1345.18 492.23 1350.4 492.23 C1355.63 492.23 1360.85 492.23 1366.07 492.23 C1371.29 492.23 1376.51 492.23 1381.73 492.23 C1386.95 492.23 1392.17 492.23 1397.39 492.23 C1402.61 492.23 1407.83 492.23 1413.05 492.23 C1418.27 492.23 1423.49 492.23 1428.72 492.23 C1433.94 492.23 1441.77 492.23 1444.38 492.23" stroke="#00B0F0" stroke-width="5.8" fill="none" stroke-linejoin="round" stroke-linecap="round"/>
<path d="M743.74 593.34L766.74 593.34M755.24 581.84L755.24 604.84M759.4 152.8L782.4 152.8M770.9 141.3L770.9 164.3M775.06 181.68L798.06 181.68M786.56 170.18L786.56 193.18M790.73 239.46L813.73 239.46M802.23 227.96L802.23 250.96M806.39 297.24L829.39 297.24M817.89 285.74L817.89 308.74M822.05 340.57L845.05 340.57M833.55 329.07L833.55 352.07M837.71 412.79L860.71 412.79M849.21 401.29L849.21 424.29M853.38 456.12L876.38 456.12M864.88 444.62L864.88 467.62M869.04 470.56L892.04 470.56M880.54 459.06L880.54 482.06M884.7 477.79L907.7 477.79M896.2 466.29L896.2 489.29M900.36 485.01L923.36 485.01M911.86 473.51L911.86 496.51M916.02 490.79L939.02 490.79M927.52 479.29L927.52 502.29M931.69 492.23L954.69 492.23M943.19 480.73L943.19 503.73M947.35 492.23L970.35 492.23M958.85 480.73L958.85 503.73M963.01 492.23L986.01 492.23M974.51 480.73L974.51 503.73M978.67 492.23L1001.67 492.23M990.17 480.73L990.17 503.73M994.34 492.23L1017.34 492.23M1005.84 480.73L1005.84 503.73M1010 492.23L1033 492.23M1021.5 480.73L1021.5 503.73M1025.66 492.23L1048.66 492.23M1037.16 480.73L1037.16 503.73M1041.32 492.23L1064.32 492.23M1052.82 480.73L1052.82 503.73M1056.98 492.23L1079.98 492.23M1068.48 480.73L1068.48 503.73M1072.65 492.23L1095.65 492.23M1084.15 480.73L1084.15 503.73M1088.31 492.23L1111.31 492.23M1099.81 480.73L1099.81 503.73M1103.97 492.23L1126.97 492.23M1115.47 480.73L1115.47 503.73M1119.63 492.23L1142.63 492.23M1131.13 480.73L1131.13 503.73M1135.3 492.23L1158.3 492.23M1146.8 480.73L1146.8 503.73M1150.96 492.23L1173.96 492.23M1162.46 480.73L1162.46 503.73M1166.62 492.23L1189.62 492.23M1178.12 480.73L1178.12 503.73M1182.28 492.23L1205.28 492.23M1193.78 480.73L1193.78 503.73M1197.94 492.23L1220.94 492.23M1209.44 480.73L1209.44 503.73M1213.61 492.23L1236.61 492.23M1225.11 480.73L1225.11 503.73M1229.27 492.23L1252.27 492.23M1240.77 480.73L1240.77 503.73M1244.93 492.23L1267.93 492.23M1256.43 480.73L1256.43 503.73M1260.59 492.23L1283.59 492.23M1272.09 480.73L1272.09 503.73M1276.26 492.23L1299.26 492.23M1287.76 480.73L1287.76 503.73M1291.92 492.23L1314.92 492.23M1303.42 480.73L1303.42 503.73M1307.58 492.23L1330.58 492.23M1319.08 480.73L1319.08 503.73M1323.24 492.23L1346.24 492.23M1334.74 480.73L1334.74 503.73M1338.9 492.23L1361.9 492.23M1350.4 480.73L1350.4 503.73M1354.57 492.23L1377.57 492.23M1366.07 480.73L1366.07 503.73M1370.23 492.23L1393.23 492.23M1381.73 480.73L1381.73 503.73M1385.89 492.23L1408.89 492.23M1397.39 480.73L1397.39 503.73M1401.55 492.23L1424.55 492.23M1413.05 480.73L1413.05 503.73M1417.22 492.23L1440.22 492.23M1428.72 480.73L1428.72 503.73M1432.88 492.23L1455.88 492.23M1444.38 480.73L1444.38 503.73" stroke="#00B0F0" stroke-width="2" fill="none"/>
<path d="M880.54 593.34 C883.15 531.95 890.98 279.18 896.2 225.02 C898.05 205.87 906.64 253.9 911.86 268.35 C917.08 282.79 922.94 296.9 927.52 311.68 C932.75 328.53 937.97 352.6 943.19 369.46 C947.77 384.24 953.63 398.34 958.85 412.79 C964.07 427.23 969.29 446.49 974.51 456.12 C978.06 462.67 984.95 466.95 990.17 470.56 C994.87 473.81 1000.61 476.58 1005.84 477.79 C1010.81 478.93 1016.28 477.79 1021.5 477.79 C1026.72 477.79 1031.94 477.79 1037.16 477.79 C1042.38 477.79 1047.6 477.79 1052.82 477.79 C1058.04 477.79 1063.26 477.79 1068.48 477.79 C1073.71 477.79 1078.93 477.79 1084.15 477.79 C1089.37 477.79 1094.59 477.79 1099.81 477.79 C1105.03 477.79 1110.25 477.79 1115.47 477.79 C1120.69 477.79 1125.91 477.79 1131.13 477.79 C1136.35 477.79 1141.57 477.79 1146.8 477.79 C1152.02 477.79 1157.24 477.79 1162.46 477.79 C1167.68 477.79 1172.9 477.79 1178.12 477.79 C1183.34 477.79 1188.56 477.79 1193.78 477.79 C1199 477.79 1204.22 477.79 1209.44 477.79 C1214.67 477.79 1219.89 477.79 1225.11 477.79 C1230.33 477.79 1235.55 477.79 1240.77 477.79 C1245.99 477.79 1251.21 477.79 1256.43 477.79 C1261.65 477.79 1266.87 477.79 1272.09 477.79 C1277.31 477.79 1282.53 477.79 1287.76 477.79 C1292.98 477.79 1298.2 477.79 1303.42 477.79 C1308.64 477.79 1313.86 477.79 1319.08 477.79 C1324.3 477.79 1329.52 477.79 1334.74 477.79 C1339.96 477.79 1345.18 477.79 1350.4 477.79 C1355.63 477.79 1360.85 477.79 1366.07 477.79 C1371.29 477.79 1376.51 477.79 1381.73 477.79 C1386.95 477.79 1392.17 477.79 1397.39 477.79 C1402.61 477.79 1407.83 477.79 1413.05 477.79 C1418.27 477.79 1423.49 477.79 1428.72 477.79 C1433.94 477.79 1441.77 477.79 1444.38 477.79" stroke="#C55A11" stroke-width="5.8" fill="none" stroke-linejoin="round" stroke-linecap="round"/>
<path d="M869.04 581.84L892.04 604.84M869.04 604.84L892.04 581.84M880.54 581.84L880.54 604.84M884.7 213.52L907.7 236.52M884.7 236.52L907.7 213.52M896.2 213.52L896.2 236.52M900.36 256.85L923.36 279.85M900.36 279.85L923.36 256.85M911.86 256.85L911.86 279.85M916.02 300.18L939.02 323.18M916.02 323.18L939.02 300.18M927.52 300.18L927.52 323.18M931.69 357.96L954.69 380.96M931.69 380.96L954.69 357.96M943.19 357.96L943.19 380.96M947.35 401.29L970.35 424.29M947.35 424.29L970.35 401.29M958.85 401.29L958.85 424.29M963.01 444.62L986.01 467.62M963.01 467.62L986.01 444.62M974.51 444.62L974.51 467.62M978.67 459.06L1001.67 482.06M978.67 482.06L1001.67 459.06M990.17 459.06L990.17 482.06M994.34 466.29L1017.34 489.29M994.34 489.29L1017.34 466.29M1005.84 466.29L1005.84 489.29M1010 466.29L1033 489.29M1010 489.29L1033 466.29M1021.5 466.29L1021.5 489.29M1025.66 466.29L1048.66 489.29M1025.66 489.29L1048.66 466.29M1037.16 466.29L1037.16 489.29M1041.32 466.29L1064.32 489.29M1041.32 489.29L1064.32 466.29M1052.82 466.29L1052.82 489.29M1056.98 466.29L1079.98 489.29M1056.98 489.29L1079.98 466.29M1068.48 466.29L1068.48 489.29M1072.65 466.29L1095.65 489.29M1072.65 489.29L1095.65 466.29M1084.15 466.29L1084.15 489.29M1088.31 466.29L1111.31 489.29M1088.31 489.29L1111.31 466.29M1099.81 466.29L1099.81 489.29M1103.97 466.29L1126.97 489.29M1103.97 489.29L1126.97 466.29M1115.47 466.29L1115.47 489.29M1119.63 466.29L1142.63 489.29M1119.63 489.29L1142.63 466.29M1131.13 466.29L1131.13 489.29M1135.3 466.29L1158.3 489.29M1135.3 489.29L1158.3 466.29M1146.8 466.29L1146.8 489.29M1150.96 466.29L1173.96 489.29M1150.96 489.29L1173.96 466.29M1162.46 466.29L1162.46 489.29M1166.62 466.29L1189.62 489.29M1166.62 489.29L1189.62 466.29M1178.12 466.29L1178.12 489.29M1182.28 466.29L1205.28 489.29M1182.28 489.29L1205.28 466.29M1193.78 466.29L1193.78 489.29M1197.94 466.29L1220.94 489.29M1197.94 489.29L1220.94 466.29M1209.44 466.29L1209.44 489.29M1213.61 466.29L1236.61 489.29M1213.61 489.29L1236.61 466.29M1225.11 466.29L1225.11 489.29M1229.27 466.29L1252.27 489.29M1229.27 489.29L1252.27 466.29M1240.77 466.29L1240.77 489.29M1244.93 466.29L1267.93 489.29M1244.93 489.29L1267.93 466.29M1256.43 466.29L1256.43 489.29M1260.59 466.29L1283.59 489.29M1260.59 489.29L1283.59 466.29M1272.09 466.29L1272.09 489.29M1276.26 466.29L1299.26 489.29M1276.26 489.29L1299.26 466.29M1287.76 466.29L1287.76 489.29M1291.92 466.29L1314.92 489.29M1291.92 489.29L1314.92 466.29M1303.42 466.29L1303.42 489.29M1307.58 466.29L1330.58 489.29M1307.58 489.29L1330.58 466.29M1319.08 466.29L1319.08 489.29M1323.24 466.29L1346.24 489.29M1323.24 489.29L1346.24 466.29M1334.74 466.29L1334.74 489.29M1338.9 466.29L1361.9 489.29M1338.9 489.29L1361.9 466.29M1350.4 466.29L1350.4 489.29M1354.57 466.29L1377.57 489.29M1354.57 489.29L1377.57 466.29M1366.07 466.29L1366.07 489.29M1370.23 466.29L1393.23 489.29M1370.23 489.29L1393.23 466.29M1381.73 466.29L1381.73 489.29M1385.89 466.29L1408.89 489.29M1385.89 489.29L1408.89 466.29M1397.39 466.29L1397.39 489.29M1401.55 466.29L1424.55 489.29M1401.55 489.29L1424.55 466.29M1413.05 466.29L1413.05 489.29M1417.22 466.29L1440.22 489.29M1417.22 489.29L1440.22 466.29M1428.72 466.29L1428.72 489.29M1432.88 466.29L1455.88 489.29M1432.88 489.29L1455.88 466.29M1444.38 466.29L1444.38 489.29" stroke="#C55A11" stroke-width="2" fill="none"/>
<path d="M990.17 311.68 C992.78 323.72 1000.61 362.23 1005.84 383.9 C1010.53 403.4 1016.28 429.64 1021.5 441.68 C1024.61 448.86 1031.94 452.51 1037.16 456.12 C1041.86 459.37 1047.6 460.93 1052.82 463.34 C1058.04 465.75 1063.26 469.36 1068.48 470.56 C1073.46 471.71 1078.93 470.56 1084.15 470.56 C1089.37 470.56 1094.59 470.56 1099.81 470.56 C1105.03 470.56 1110.25 470.56 1115.47 470.56 C1120.69 470.56 1125.91 470.56 1131.13 470.56 C1136.35 470.56 1141.57 470.56 1146.8 470.56 C1152.02 470.56 1157.24 470.56 1162.46 470.56 C1167.68 470.56 1172.9 470.56 1178.12 470.56 C1183.34 470.56 1188.56 470.56 1193.78 470.56 C1199 470.56 1204.22 470.56 1209.44 470.56 C1214.67 470.56 1219.89 470.56 1225.11 470.56 C1230.33 470.56 1235.55 470.56 1240.77 470.56 C1245.99 470.56 1251.21 470.56 1256.43 470.56 C1261.65 470.56 1266.87 470.56 1272.09 470.56 C1277.31 470.56 1282.53 470.56 1287.76 470.56 C1292.98 470.56 1298.2 470.56 1303.42 470.56 C1308.64 470.56 1313.86 470.56 1319.08 470.56 C1324.3 470.56 1329.52 470.56 1334.74 470.56 C1339.96 470.56 1345.18 470.56 1350.4 470.56 C1355.63 470.56 1360.85 470.56 1366.07 470.56 C1371.29 470.56 1376.51 470.56 1381.73 470.56 C1386.95 470.56 1392.17 470.56 1397.39 470.56 C1402.61 470.56 1407.83 470.56 1413.05 470.56 C1418.27 470.56 1423.49 470.56 1428.72 470.56 C1433.94 470.56 1441.77 470.56 1444.38 470.56" stroke="#629B40" stroke-width="5.8" fill="none" stroke-linejoin="round" stroke-linecap="round"/>
<circle cx="990.17" cy="311.68" r="12.4" fill="#629B40"/><circle cx="1005.84" cy="383.9" r="10.8" fill="#629B40"/><circle cx="1021.5" cy="441.68" r="12.4" fill="#629B40"/><circle cx="1037.16" cy="456.12" r="12.4" fill="#629B40"/><circle cx="1052.82" cy="463.34" r="12.4" fill="#629B40"/><circle cx="1068.48" cy="470.56" r="12.4" fill="#629B40"/><circle cx="1084.15" cy="470.56" r="12.4" fill="#629B40"/><circle cx="1099.81" cy="470.56" r="12.4" fill="#629B40"/><circle cx="1115.47" cy="470.56" r="12.4" fill="#629B40"/><circle cx="1131.13" cy="470.56" r="12.4" fill="#629B40"/><circle cx="1146.8" cy="470.56" r="12.4" fill="#629B40"/><circle cx="1162.46" cy="470.56" r="12.4" fill="#629B40"/><circle cx="1178.12" cy="470.56" r="12.4" fill="#629B40"/><circle cx="1193.78" cy="470.56" r="12.4" fill="#629B40"/><circle cx="1209.44" cy="470.56" r="12.4" fill="#629B40"/><circle cx="1225.11" cy="470.56" r="12.4" fill="#629B40"/><circle cx="1240.77" cy="470.56" r="12.4" fill="#629B40"/><circle cx="1256.43" cy="470.56" r="12.4" fill="#629B40"/><circle cx="1272.09" cy="470.56" r="12.4" fill="#629B40"/><circle cx="1287.76" cy="470.56" r="12.4" fill="#629B40"/><circle cx="1303.42" cy="470.56" r="12.4" fill="#629B40"/><circle cx="1319.08" cy="470.56" r="12.4" fill="#629B40"/><circle cx="1334.74" cy="470.56" r="12.4" fill="#629B40"/><circle cx="1350.4" cy="470.56" r="12.4" fill="#629B40"/><circle cx="1366.07" cy="470.56" r="12.4" fill="#629B40"/><circle cx="1381.73" cy="470.56" r="12.4" fill="#629B40"/><circle cx="1397.39" cy="470.56" r="12.4" fill="#629B40"/><circle cx="1413.05" cy="470.56" r="12.4" fill="#629B40"/><circle cx="1428.72" cy="470.56" r="12.4" fill="#629B40"/><circle cx="1444.38" cy="470.56" r="12.4" fill="#629B40"/>
<g font-family="Liberation Serif, Times New Roman, serif" font-size="54.5" fill="#000" stroke="#000" stroke-width="0.4"><text x="145.2" y="761.3" text-anchor="end">0</text><text x="145.2" y="689.08" text-anchor="end">5</text><text x="145.2" y="616.86" text-anchor="end">10</text><text x="145.2" y="544.64" text-anchor="end">15</text><text x="145.2" y="472.42" text-anchor="end">20</text><text x="145.2" y="400.2" text-anchor="end">25</text><text x="145.2" y="327.98" text-anchor="end">30</text><text x="145.2" y="255.76" text-anchor="end">35</text><text x="145.2" y="183.54" text-anchor="end">40</text><text x="145.2" y="111.32" text-anchor="end">45</text><text x="145.2" y="39.1" text-anchor="end">50</text><text x="190.4" y="824" text-anchor="middle">0</text><text x="347.02" y="824" text-anchor="middle">500</text><text x="503.64" y="824" text-anchor="middle">1000</text><text x="660.27" y="824" text-anchor="middle">1500</text><text x="816.89" y="824" text-anchor="middle">2000</text><text x="973.51" y="824" text-anchor="middle">2500</text><text x="1130.13" y="824" text-anchor="middle">3000</text><text x="1286.76" y="824" text-anchor="middle">3500</text><text x="1443.38" y="824" text-anchor="middle">4000</text><text x="1600" y="824" text-anchor="middle">4500</text><text x="609.7" y="890.8">Production time (d)</text><text transform="translate(40.2 658.6) rotate(-90)">Daily oil production (t)</text></g>
<path d="M1020.3 57.4L1095.2 57.4" stroke="#FF0000" stroke-width="1.1"/><polygon points="1058,46.4 1069,68.4 1047,68.4" fill="#FF0000"/><path d="M1020.7 104.9L1095.3 104.9" stroke="#0000FF" stroke-width="5.8" stroke-linecap="round"/><polygon points="1058,94.4 1068.5,104.9 1058,115.4 1047.5,104.9" fill="#0000FF"/><path d="M1020.7 152.4L1095.3 152.4" stroke="#000" stroke-width="5.8" stroke-linecap="round"/><polygon points="1058,142.75 1067.65,162.05 1048.35,162.05" fill="#969696" stroke="#000" stroke-width="2.2" stroke-linejoin="round"/><path d="M1020.7 199.9L1095.3 199.9" stroke="#E2A800" stroke-width="5.8" stroke-linecap="round"/><path d="M1045.5 187.4L1070.5 212.4M1045.5 212.4L1070.5 187.4" stroke="#E2A800" stroke-width="2" fill="none"/><path d="M1020.7 247.4L1095.3 247.4" stroke="#00B0F0" stroke-width="5.8" stroke-linecap="round"/><path d="M1046.5 247.4L1069.5 247.4M1058 235.9L1058 258.9" stroke="#00B0F0" stroke-width="2" fill="none"/><path d="M1020.7 294.9L1095.3 294.9" stroke="#C55A11" stroke-width="5.8" stroke-linecap="round"/><path d="M1046.5 283.4L1069.5 306.4M1046.5 306.4L1069.5 283.4M1058 283.4L1058 306.4" stroke="#C55A11" stroke-width="2" fill="none"/><path d="M1020.7 342.4L1095.3 342.4" stroke="#629B40" stroke-width="5.8" stroke-linecap="round"/><circle cx="1058" cy="342.4" r="12.4" fill="#629B40"/><g font-family="Liberation Serif, Times New Roman, serif" font-size="46.5" fill="#000" stroke="#000" stroke-width="0.4"><text x="1101" y="72.2">Numerical value</text><text x="1101" y="119.7">Production data</text><text x="1101" y="167.2">Refracturing after 3 years</text><text x="1101" y="214.7">Refracturing after 4 years</text><text x="1101" y="262.2">Refracturing after 5 years</text><text x="1101" y="309.7">Refracturing after 6 years</text><text x="1101" y="357.2">Refracturing after 7 years</text></g></svg>
</body></html>
